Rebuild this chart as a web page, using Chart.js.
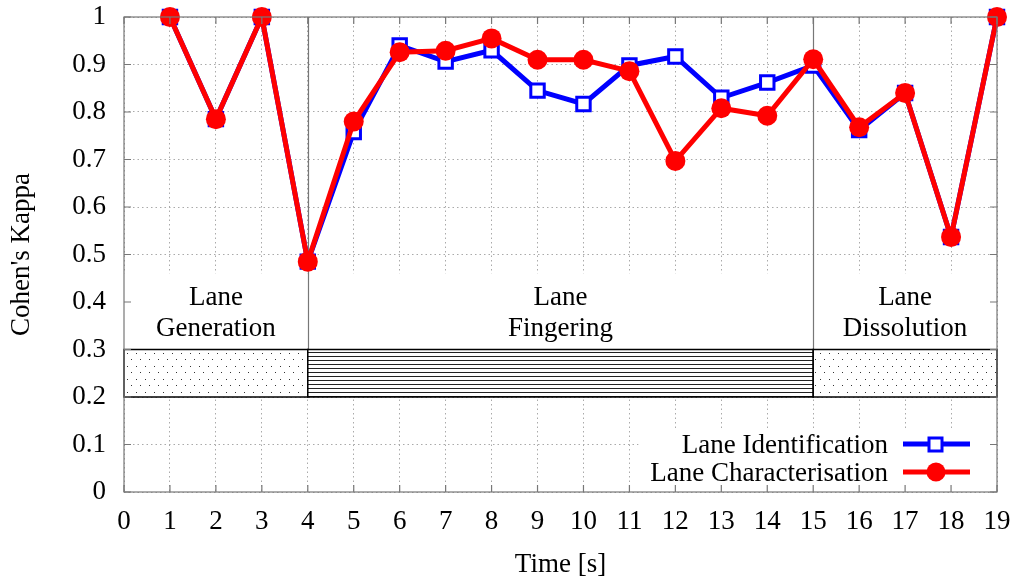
<!DOCTYPE html>
<html>
<head>
<meta charset="utf-8">
<script src="https://cdn.jsdelivr.net/npm/chart.js@4"></script>
<style>
  html, body { margin: 0; padding: 0; background: #fff; }
  #wrap { width: 1013px; height: 582px; }
</style>
</head>
<body>
<div id="wrap"><canvas id="myChart" width="1013" height="582"></canvas></div>
<script>
var times = [1, 2, 3, 4, 5, 6, 7, 8, 9, 10, 11, 12, 13, 14, 15, 16, 17, 18, 19];
var laneIdent = [1.0, 0.785, 1.0, 0.485, 0.758, 0.94, 0.906, 0.93, 0.845, 0.817, 0.898, 0.917, 0.83, 0.862, 0.898, 0.762, 0.84, 0.537, 1.0];
var laneChar = [1.0, 0.785, 1.0, 0.485, 0.78, 0.926, 0.929, 0.955, 0.91, 0.91, 0.886, 0.697, 0.808, 0.792, 0.911, 0.768, 0.84, 0.537, 1.0];

var phaseStart = [0, 4, 15];
var phaseEnd = [4, 15, 19];
var phaseNames = [["Lane", "Generation"], ["Lane", "Fingering"], ["Lane", "Dissolution"]];
var legendNames = ["Lane Identification", "Lane Characterisation"];

var FONT = '"Liberation Serif", "DejaVu Serif", serif';
var FS = 27;

// fill patterns for the phase bands
function dotPattern(ctx) {
  var c = document.createElement('canvas');
  c.width = 9; c.height = 13;
  var g = c.getContext('2d');
  g.fillStyle = '#333';
  g.fillRect(1, 2, 1, 1);
  g.fillRect(5, 8, 1, 1);
  return ctx.createPattern(c, 'repeat');
}
function linePattern(ctx) {
  var c = document.createElement('canvas');
  c.width = 4; c.height = 4;
  var g = c.getContext('2d');
  g.fillStyle = '#222';
  g.fillRect(0, 0, 4, 1);
  return ctx.createPattern(c, 'repeat');
}

var overlay = {
  id: 'overlay',
  beforeDatasetsDraw: function(chart) {
    var ctx = chart.ctx, a = chart.chartArea, x = chart.scales.x, y = chart.scales.y;
    ctx.save();
    // blank strip behind the phase names
    var yTop = y.getPixelForValue(0.46), yMid = y.getPixelForValue(0.3), yBot = y.getPixelForValue(0.2);
    ctx.fillStyle = '#fff';
    ctx.fillRect(a.left, yTop, a.right - a.left, yMid - yTop);

    // phase separators
    ctx.strokeStyle = '#777';
    ctx.lineWidth = 1.2;
    [4, 15].forEach(function(v) {
      var px = Math.round(x.getPixelForValue(v)) + 0.5;
      ctx.beginPath();
      ctx.moveTo(px, a.top);
      ctx.lineTo(px, yMid);
      ctx.stroke();
    });

    // bands
    var dots = dotPattern(ctx), lines = linePattern(ctx);
    for (var i = 0; i < phaseStart.length; i++) {
      var x0 = x.getPixelForValue(phaseStart[i]), x1 = x.getPixelForValue(phaseEnd[i]);
      ctx.fillStyle = '#fff';
      ctx.fillRect(x0, yMid, x1 - x0, yBot - yMid);
      ctx.fillStyle = i === 1 ? lines : dots;
      ctx.fillRect(x0, yMid, x1 - x0, yBot - yMid);
      ctx.strokeStyle = '#000';
      ctx.lineWidth = 1.5;
      ctx.strokeRect(x0, yMid, x1 - x0, yBot - yMid);

      ctx.fillStyle = '#000';
      ctx.font = FS + 'px ' + FONT;
      ctx.textAlign = 'center';
      ctx.textBaseline = 'alphabetic';
      var cx = (x0 + x1) / 2;
      ctx.fillText(phaseNames[i][0], cx, 305);
      ctx.fillText(phaseNames[i][1], cx, 336);
    }

    // key background
    var kx = x.getPixelForValue(11.2), ky = y.getPixelForValue(0.13);
    ctx.fillStyle = '#fff';
    ctx.fillRect(kx, ky, a.right - kx, a.bottom - ky);
    ctx.restore();
  },
  afterDatasetsDraw: function(chart) {
    var ctx = chart.ctx, a = chart.chartArea, x = chart.scales.x, y = chart.scales.y;
    ctx.save();
    // frame and inward ticks
    ctx.strokeStyle = '#777';
    ctx.lineWidth = 1.2;
    ctx.strokeRect(a.left, a.top, a.right - a.left, a.bottom - a.top);
    ctx.beginPath();
    x.ticks.forEach(function(t) {
      var px = x.getPixelForValue(t.value);
      ctx.moveTo(px, a.bottom); ctx.lineTo(px, a.bottom - 7);
      ctx.moveTo(px, a.top); ctx.lineTo(px, a.top + 7);
    });
    y.ticks.forEach(function(t) {
      var py = y.getPixelForValue(t.value);
      ctx.moveTo(a.left, py); ctx.lineTo(a.left + 7, py);
      ctx.moveTo(a.right, py); ctx.lineTo(a.right - 7, py);
    });
    ctx.stroke();

    // key
    var rows = [444, 472];
    ctx.font = FS + 'px ' + FONT;
    ctx.textAlign = 'right';
    ctx.textBaseline = 'alphabetic';
    chart.data.datasets.forEach(function(ds, i) {
      var ry = rows[i];
      ctx.fillStyle = '#000';
      ctx.fillText(legendNames[i], 888, ry + 9);
      ctx.strokeStyle = ds.borderColor;
      ctx.lineWidth = 5;
      ctx.beginPath();
      ctx.moveTo(903, ry); ctx.lineTo(970, ry);
      ctx.stroke();
      if (i === 0) {
        ctx.fillStyle = '#fff';
        ctx.lineWidth = 3;
        ctx.fillRect(929, ry - 6, 13, 13);
        ctx.strokeRect(929, ry - 6, 13, 13);
      } else {
        ctx.fillStyle = ds.pointBackgroundColor;
        ctx.beginPath();
        ctx.arc(936, ry, 9.5, 0, Math.PI * 2);
        ctx.fill();
      }
    });
    ctx.restore();
  }
};

var ctx = document.getElementById("myChart");
var myChart = new Chart(ctx, {
  type: 'line',
  data: {
    datasets: [
      {
        label: legendNames[0],
        data: times.map(function(t, i) { return {x: t, y: laneIdent[i]}; }),
        borderColor: '#0000ff',
        borderWidth: 5,
        pointStyle: 'rect',
        pointRadius: 9.5,
        pointBorderWidth: 3,
        pointBorderColor: '#0000ff',
        pointBackgroundColor: '#ffffff',
        clip: false,
        order: 2
      },
      {
        label: legendNames[1],
        data: times.map(function(t, i) { return {x: t, y: laneChar[i]}; }),
        borderColor: '#ff0000',
        borderWidth: 5,
        pointStyle: 'circle',
        pointRadius: 10,
        pointBorderWidth: 0,
        pointBackgroundColor: '#ff0000',
        clip: false,
        order: 1
      }
    ]
  },
  options: {
    responsive: false,
    animation: false,
    layout: { autoPadding: false, padding: { left: 0, right: 16, top: 17, bottom: 0 } },
    plugins: { legend: { display: false }, tooltip: { enabled: false } },
    scales: {
      x: {
        type: 'linear',
        min: 0, max: 19,
        afterFit: function(s) { s.height = 90; s.paddingLeft = 0; s.paddingRight = 0; },
        ticks: { stepSize: 1, color: '#000', padding: 14, font: { family: FONT, size: FS } },
        grid: { color: '#aaa', lineWidth: 1, drawTicks: false },
        border: { display: false, dash: [1.5, 3] },
        title: { display: true, text: 'Time [s]', color: '#000', padding: { top: 0, bottom: 1 }, font: { family: FONT, size: FS } }
      },
      y: {
        min: 0, max: 1,
        afterFit: function(s) { s.width = 124; s.paddingTop = 0; s.paddingBottom = 0; },
        ticks: { stepSize: 0.1, color: '#000', padding: 18, font: { family: FONT, size: FS },
          callback: function(v) { return Math.round(v * 10) / 10; } },
        grid: { color: '#aaa', lineWidth: 1, drawTicks: false },
        border: { display: false, dash: [1.5, 3] },
        title: { display: true, text: "Cohen's Kappa", color: '#000', padding: { top: 6, bottom: 0 }, font: { family: FONT, size: FS } }
      }
    }
  },
  plugins: [overlay]
});
</script>
</body>
</html>
